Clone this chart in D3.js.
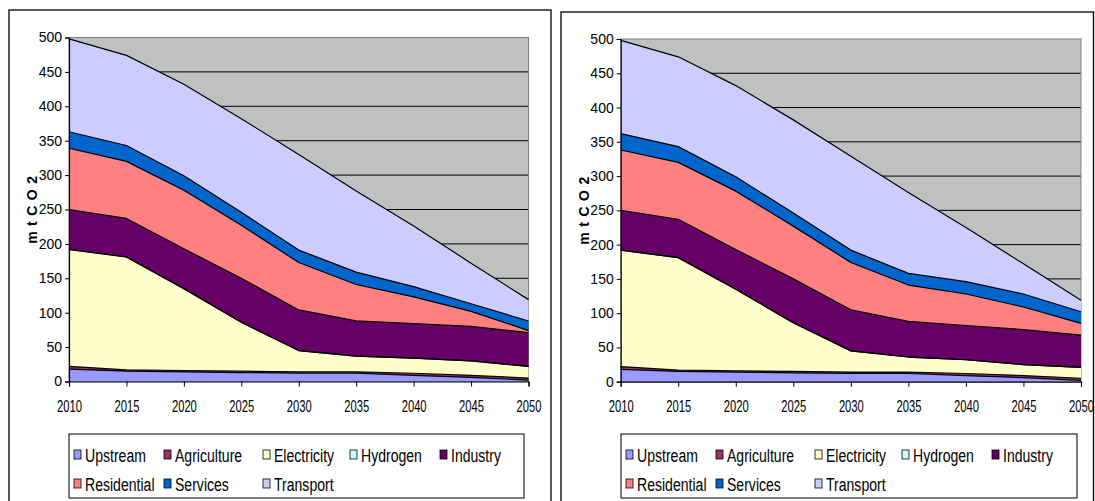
<!DOCTYPE html>
<html>
<head>
<meta charset="utf-8">
<script src="https://cdn.jsdelivr.net/npm/d3@7"></script>
<style>
  html, body { margin: 0; padding: 0; background: #fff; }
  svg { display: block; }
  text { font-family: "Liberation Sans", Arial, sans-serif; fill: #000; }
</style>
</head>
<body>
<svg id="chart" width="1095" height="501"></svg>
<script>
// ---------------- DATA ----------------
const years = [2010, 2015, 2020, 2025, 2030, 2035, 2040, 2045, 2050];
const seriesNames = ["Upstream", "Agriculture", "Electricity", "Hydrogen", "Industry", "Residential", "Services", "Transport"];
const seriesColors = ["#9999FF", "#993366", "#FFFFCC", "#CCFFFF", "#660066", "#FF8080", "#0066CC", "#CCCCFF"];
const yTicks = [0, 50, 100, 150, 200, 250, 300, 350, 400, 450, 500];
const yTitle = "m t C O 2";

// Left chart (mt CO2 per sector)
const upstreamA    = [18, 15, 14, 13, 12, 12, 9, 6, 2];
const agricultureA = [4, 2, 2, 2, 2, 2, 3, 3, 3];
const electricityA = [170, 164, 119, 71, 31, 23, 22, 21, 17];
const hydrogenA    = [0, 0, 0, 0, 0, 0, 0, 0, 0];
const industryA    = [58, 56, 58, 64, 59, 51, 50, 50, 49];
const residentialA = [89, 83, 85, 77, 69, 53, 39, 22, 3];
const servicesA    = [24, 23, 21, 19, 18, 18, 15, 11, 14];
const transportA   = [135, 131, 133, 136, 139, 118, 88, 59, 31];

// Right chart
const upstreamB    = [18, 15, 14, 13, 12, 12, 9, 6, 2];
const agricultureB = [4, 2, 2, 2, 2, 2, 3, 3, 3];
const electricityB = [170, 164, 119, 71, 31, 22, 20, 16, 16];
const hydrogenB    = [0, 0, 0, 0, 0, 0, 0, 0, 0];
const industryB    = [58, 56, 58, 64, 60, 52, 50, 51, 47];
const residentialB = [88, 83, 85, 77, 69, 53, 46, 33, 17];
const servicesB    = [24, 23, 21, 19, 18, 17, 18, 19, 17];
const transportB   = [136, 131, 133, 136, 137, 118, 79, 44, 17];

const seriesA = [upstreamA, agricultureA, electricityA, hydrogenA, industryA, residentialA, servicesA, transportA];
const seriesB = [upstreamB, agricultureB, electricityB, hydrogenB, industryB, residentialB, servicesB, transportB];

// ---------------- DRAW ----------------
const svg = d3.select("#chart");

function drawChart(series, L) {
  const g = svg.append("g");

  // outer frame
  g.append("rect")
    .attr("x", L.fx).attr("y", L.fy).attr("width", L.fw).attr("height", L.fh)
    .attr("fill", "#fff").attr("stroke", "#000").attr("stroke-width", 1.3);

  const x = d3.scaleLinear().domain([years[0], years[years.length - 1]]).range([L.px0, L.px1]);
  const y = d3.scaleLinear().domain([0, 500]).range([L.py1, L.py0]);

  // plot background
  g.append("rect")
    .attr("x", L.px0).attr("y", L.py0)
    .attr("width", L.px1 - L.px0).attr("height", L.py1 - L.py0)
    .attr("fill", "#C0C0C0");

  // gridlines
  g.append("g").selectAll("line")
    .data(yTicks.filter(t => t > 0 && t < 500))
    .join("line")
    .attr("x1", L.px0).attr("x2", L.px1)
    .attr("y1", d => y(d)).attr("y2", d => y(d))
    .attr("stroke", "#000").attr("stroke-width", 1);

  // plot border (top/right grey)
  g.append("rect")
    .attr("x", L.px0).attr("y", L.py0)
    .attr("width", L.px1 - L.px0).attr("height", L.py1 - L.py0)
    .attr("fill", "none").attr("stroke", "#808080").attr("stroke-width", 1);

  // stacked data
  const table = years.map((yr, i) => {
    const row = { year: yr };
    seriesNames.forEach((n, k) => row[n] = series[k][i]);
    return row;
  });
  const stack = d3.stack().keys(seriesNames)(table);

  const area = d3.area()
    .x(d => x(d.data.year))
    .y0(d => y(d[0]))
    .y1(d => y(d[1]));
  const topLine = d3.line()
    .x(d => x(d.data.year))
    .y(d => y(d[1]));

  g.append("g").selectAll("path")
    .data(stack)
    .join("path")
    .attr("d", area)
    .attr("fill", (d, i) => seriesColors[i])
    .attr("stroke", "none");

  g.append("g").selectAll("path")
    .data(stack)
    .join("path")
    .attr("d", topLine)
    .attr("fill", "none")
    .attr("stroke", "#000")
    .attr("stroke-width", 1.2)
    .attr("stroke-linejoin", "round");

  // axes
  const yAxis = d3.axisLeft(y).tickValues(yTicks).tickSize(4).tickPadding(3).tickFormat(d3.format("d"));
  const ya = g.append("g").attr("transform", `translate(${L.px0},0)`).call(yAxis);
  ya.select(".domain").attr("stroke", "#000").attr("stroke-width", 1.2);
  ya.selectAll(".tick line").attr("stroke", "#000");
  ya.selectAll(".tick text")
    .attr("font-family", "Liberation Sans, Arial, sans-serif")
    .attr("font-size", 14).attr("fill", "#000");

  const xAxis = d3.axisBottom(x).tickValues(years).tickSize(5).tickPadding(0).tickFormat(d3.format("d"));
  const xa = g.append("g").attr("transform", `translate(0,${L.py1})`).call(xAxis);
  xa.select(".domain").attr("stroke", "#000").attr("stroke-width", 1.2);
  xa.selectAll(".tick line").attr("stroke", "#000");
  xa.selectAll(".tick text")
    .attr("font-family", "Liberation Sans, Arial, sans-serif")
    .attr("font-size", 17).attr("fill", "#000")
    .attr("dy", null).attr("y", null)
    .attr("transform", "translate(0,30) scale(0.66,1)");

  // y title
  g.append("text")
    .attr("transform", `translate(${L.tx},${(L.py0 + L.py1) / 2}) rotate(-90)`)
    .attr("text-anchor", "middle")
    .attr("font-size", 14).attr("font-weight", "bold")
    .attr("letter-spacing", 0.8)
    .text(yTitle);

  // legend
  const lg = g.append("g");
  lg.append("rect")
    .attr("x", L.lx).attr("y", L.ly).attr("width", L.lw).attr("height", L.lh)
    .attr("fill", "#fff").attr("stroke", "#000").attr("stroke-width", 1);
  const colX = [5, 95, 194, 281, 371];
  const rowY = [28, 57];
  seriesNames.forEach((n, i) => {
    const r = i < 5 ? 0 : 1;
    const c = i < 5 ? i : i - 5;
    const cx = L.lx + colX[c];
    const cy = L.ly + rowY[r];
    lg.append("rect")
      .attr("x", cx).attr("y", cy - 12).attr("width", 7).attr("height", 9)
      .attr("fill", seriesColors[i]).attr("stroke", "#000").attr("stroke-width", 0.8);
    lg.append("text")
      .attr("transform", `translate(${cx + 11},${cy}) scale(0.74,1)`)
      .attr("font-size", 19)
      .text(n);
  });
}

drawChart(seriesA, {
  fx: 9, fy: 10, fw: 542, fh: 500,
  px0: 69, px1: 528.5, py0: 37.5, py1: 381.5,
  tx: 37,
  lx: 69, ly: 434, lw: 455, lh: 64
});

drawChart(seriesB, {
  fx: 561, fy: 12, fw: 532.5, fh: 500,
  px0: 620.7, px1: 1081, py0: 39, py1: 381.7,
  tx: 589,
  lx: 621, ly: 434, lw: 456, lh: 64
});
</script>
</body>
</html>
